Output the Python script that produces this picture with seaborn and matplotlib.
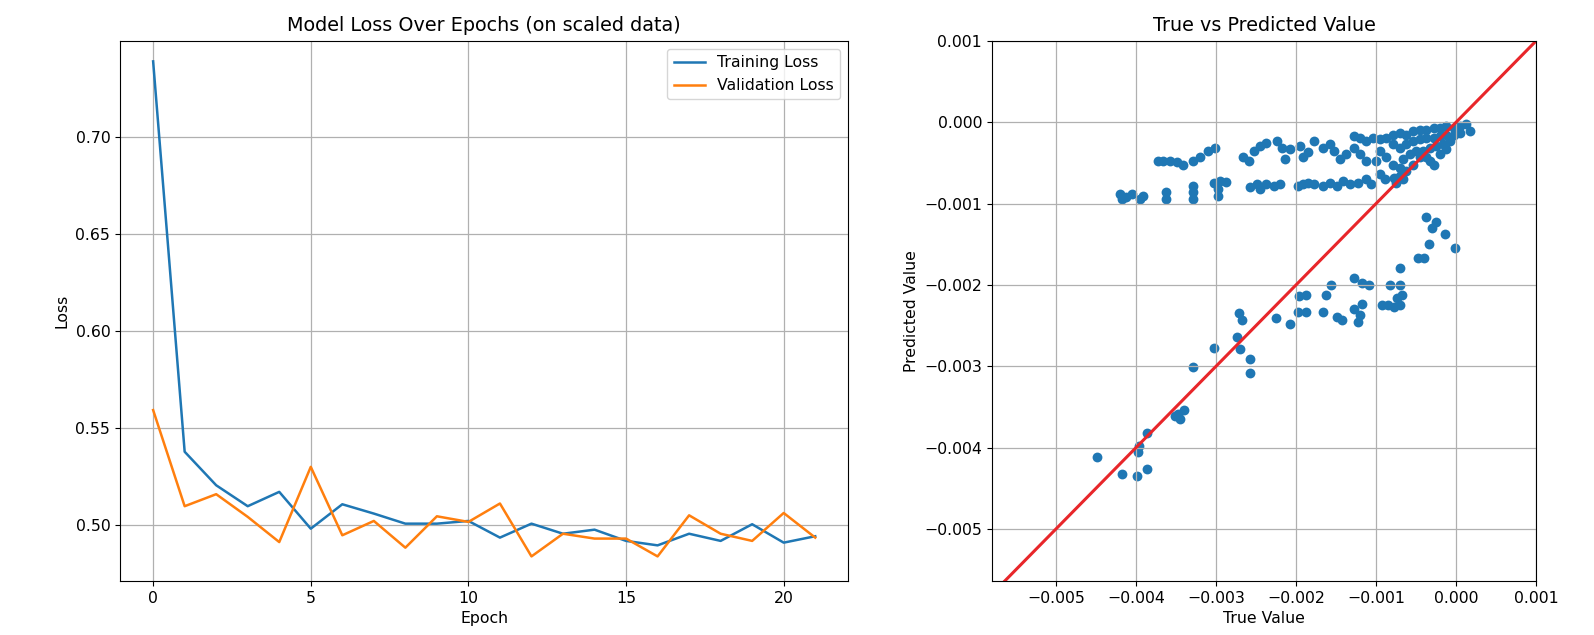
import matplotlib
matplotlib.use("Agg")
import matplotlib.pyplot as plt
from matplotlib.ticker import FuncFormatter
import seaborn as sns

# Loss history per epoch (scaled data)
epochs = list(range(22))
train_loss = [0.739, 0.5376, 0.5203, 0.5095, 0.5169, 0.4979, 0.5105, 0.5057,
              0.5005, 0.5005, 0.5019, 0.4933, 0.5005, 0.4953, 0.4974, 0.4916,
              0.4893, 0.4953, 0.4916, 0.5002, 0.4907, 0.4940]
val_loss = [0.5591, 0.5095, 0.5157, 0.5040, 0.4910, 0.5298, 0.4945, 0.5019,
            0.4881, 0.5043, 0.5014, 0.5109, 0.4836, 0.4953, 0.4928, 0.4928,
            0.4836, 0.5048, 0.4953, 0.4916, 0.5060, 0.4933]

# Test-set targets and model predictions
true_vals = [
    -0.00449, -0.00418, -0.00399, -0.00386, -0.00398, -0.00396, -0.00386, -0.00351,
    -0.00345, -0.00340, -0.00347, -0.00329, -0.00303, -0.00274, -0.00270, -0.00271,
    -0.00268, -0.00258, -0.00258, -0.00225, -0.00208, -0.00198, -0.00187, -0.00196,
    -0.00187, -0.00166, -0.00162, -0.00156, -0.00149, -0.00142, -0.00128, -0.00117,
    -0.00109, -0.00127, -0.00120, -0.00122, -0.00117, -0.00093, -0.00085, -0.00078,
    -0.00070, -0.00068, -0.00070, -0.00070, -0.00082, -0.00074, -0.00047, -0.00037,
    -0.00014, -0.00001, -0.00040, -0.00034, -0.00025, -0.00030,
    -0.00420, -0.00418, -0.00412, -0.00405, -0.00395, -0.00391, -0.00362, -0.00362,
    -0.00329, -0.00329, -0.00329, -0.00303, -0.00295, -0.00287, -0.00297, -0.00297,
    -0.00257, -0.00249, -0.00245, -0.00237, -0.00228, -0.00220, -0.00197, -0.00191,
    -0.00185, -0.00178, -0.00166, -0.00158, -0.00149, -0.00141, -0.00133, -0.00122,
    -0.00112, -0.00106, -0.00095, -0.00089, -0.00078, -0.00070,
    -0.00372, -0.00366, -0.00357, -0.00349, -0.00341, -0.00329, -0.00320, -0.00310,
    -0.00301, -0.00266, -0.00259, -0.00253, -0.00245, -0.00237, -0.00224, -0.00218,
    -0.00214, -0.00208, -0.00195, -0.00191, -0.00185, -0.00178, -0.00166, -0.00158,
    -0.00153, -0.00145, -0.00137, -0.00128, -0.00120, -0.00112, -0.00128, -0.00120,
    -0.00112, -0.00104, -0.00095, -0.00087, -0.00079, -0.00070, -0.00062, -0.00054,
    -0.00045, -0.00037, -0.00028, -0.00020, -0.00012, -0.00003, 0.00005, 0.00013,
    0.00017, -0.00079, -0.00070, -0.00062, -0.00054, -0.00045, -0.00037, -0.00028,
    -0.00020, -0.00012, -0.00003, 0.00005, -0.00058, -0.00050, -0.00041, -0.00033,
    -0.00025, -0.00016, -0.00008, -0.00033, -0.00028, -0.00037, -0.00020, -0.00012,
    -0.00079, -0.00070, -0.00062, -0.00066, -0.00054, -0.00045, -0.00095, -0.00087,
    -0.00100, -0.00075, -0.00066,
]
pred_vals = [
    -0.00411, -0.00432, -0.00435, -0.00426, -0.00405, -0.00398, -0.00382, -0.00361,
    -0.00365, -0.00354, -0.00359, -0.00301, -0.00278, -0.00264, -0.00279, -0.00235,
    -0.00243, -0.00291, -0.00308, -0.00240, -0.00248, -0.00233, -0.00233, -0.00213,
    -0.00212, -0.00233, -0.00212, -0.00200, -0.00239, -0.00243, -0.00192, -0.00198,
    -0.00200, -0.00229, -0.00237, -0.00245, -0.00223, -0.00225, -0.00225, -0.00227,
    -0.00225, -0.00212, -0.00200, -0.00179, -0.00200, -0.00216, -0.00167, -0.00116,
    -0.00137, -0.00155, -0.00167, -0.00149, -0.00122, -0.00130,
    -0.00088, -0.00094, -0.00092, -0.00088, -0.00094, -0.00090, -0.00086, -0.00094,
    -0.00078, -0.00086, -0.00094, -0.00074, -0.00072, -0.00073, -0.00082, -0.00090,
    -0.00080, -0.00076, -0.00082, -0.00076, -0.00078, -0.00076, -0.00078, -0.00076,
    -0.00074, -0.00076, -0.00078, -0.00074, -0.00078, -0.00072, -0.00076, -0.00074,
    -0.00070, -0.00076, -0.00064, -0.00070, -0.00068, -0.00066,
    -0.00047, -0.00047, -0.00047, -0.00049, -0.00052, -0.00047, -0.00043, -0.00035,
    -0.00031, -0.00043, -0.00047, -0.00035, -0.00029, -0.00025, -0.00023, -0.00031,
    -0.00045, -0.00033, -0.00029, -0.00043, -0.00037, -0.00023, -0.00031, -0.00027,
    -0.00035, -0.00045, -0.00039, -0.00017, -0.00019, -0.00023, -0.00031, -0.00039,
    -0.00047, -0.00019, -0.00021, -0.00019, -0.00015, -0.00013, -0.00015, -0.00011,
    -0.00009, -0.00009, -0.00007, -0.00007, -0.00004, -0.00007, -0.00004, -0.00002,
    -0.00011, -0.00027, -0.00031, -0.00027, -0.00023, -0.00021, -0.00019, -0.00019,
    -0.00017, -0.00015, -0.00015, -0.00013, -0.00039, -0.00035, -0.00035, -0.00031,
    -0.00029, -0.00027, -0.00023, -0.00047, -0.00052, -0.00043, -0.00039, -0.00033,
    -0.00052, -0.00056, -0.00060, -0.00045, -0.00052, -0.00043, -0.00035, -0.00043,
    -0.00047, -0.00074, -0.00070,
]
value_ticks = [-0.005, -0.004, -0.003, -0.002, -0.001, 0.0, 0.001]

SMALL = 11.3
TITLE = 13.8

fig = plt.figure(figsize=(15.94, 6.35), dpi=100)
ax1 = fig.add_axes([0.0753, 0.085, 0.4569, 0.8504])
ax2 = fig.add_axes([0.6223, 0.085, 0.3413, 0.8504])

# Left panel: training curves
sns.lineplot(x=epochs, y=train_loss, ax=ax1, color="#1f77b4", linewidth=1.8,
             label="Training Loss")
sns.lineplot(x=epochs, y=val_loss, ax=ax1, color="#ff7f0e", linewidth=1.8,
             label="Validation Loss")
ax1.set_title("Model Loss Over Epochs (on scaled data)", fontsize=TITLE, pad=7)
ax1.set_xlabel("Epoch", fontsize=SMALL)
ax1.set_ylabel("Loss", fontsize=SMALL)
ax1.set_xticks([0, 5, 10, 15, 20])
ax1.set_ylim(0.4709, 0.7495)
ax1.legend(loc="upper right", fontsize=SMALL)
ax1.grid(True, linewidth=0.9)

# Right panel: predictions against targets
sns.scatterplot(x=true_vals, y=pred_vals, ax=ax2, color="#1f77b4", s=50,
                linewidth=0, alpha=1.0)
ax2.axline((0, 0), slope=1, color="#e8262a", linewidth=2.2)
ax2.set_xlim(-0.0058, 0.001)
ax2.set_ylim(-0.00564, 0.001)
ax2.set_xticks(value_ticks)
ax2.set_yticks(value_ticks)
fmt = FuncFormatter(lambda v, p: f"{v:.3f}".replace("-", "\u2212"))
ax2.xaxis.set_major_formatter(fmt)
ax2.yaxis.set_major_formatter(fmt)
ax2.set_title("True vs Predicted Value", fontsize=TITLE, pad=7)
ax2.set_xlabel("True Value", fontsize=SMALL)
ax2.set_ylabel("Predicted Value", fontsize=SMALL)
ax2.grid(True, linewidth=0.9)

for ax in (ax1, ax2):
    ax.tick_params(labelsize=SMALL)

fig.savefig("out.png", dpi=100)
